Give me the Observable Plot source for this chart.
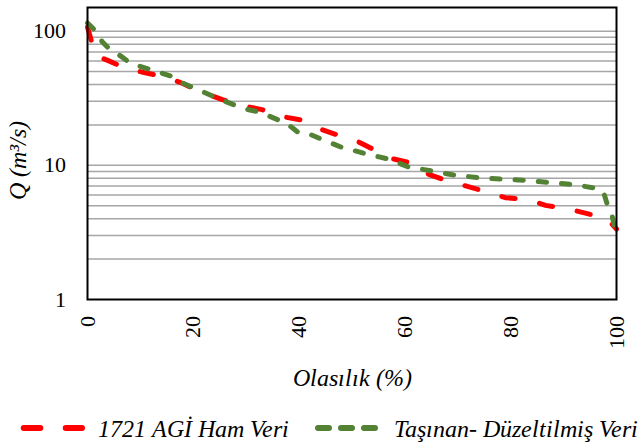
<!DOCTYPE html>
<html>
<head>
<meta charset="utf-8">
<script src="https://cdn.jsdelivr.net/npm/d3@7"></script>
<script src="https://cdn.jsdelivr.net/npm/@observablehq/plot@0.6"></script>
<style>
  @font-face { font-family: "RefSerif"; font-style: normal; font-weight: 400;
    src: local("Liberation Serif"), local("LiberationSerif"), local("LiberationSerif-Regular"), local("DejaVu Serif"), local("DejaVuSerif"), local("Times New Roman"), local("Tinos"); }
  @font-face { font-family: "RefSerif"; font-style: italic; font-weight: 400;
    src: local("Liberation Serif Italic"), local("LiberationSerif-Italic"), local("DejaVu Serif Italic"), local("DejaVuSerif-Italic"), local("Times New Roman Italic"), local("Tinos Italic"); }
  html, body { margin: 0; padding: 0; background: #fff; }
  body { width: 643px; height: 446px; position: relative; overflow: hidden; font-family: "RefSerif", "Liberation Serif", "DejaVu Serif", "Times New Roman", serif; }
  #chart { position: absolute; left: 0; top: 0; }
  .lg-swatch { position: absolute; }
  .lg-text { position: absolute; font-size: 24px; line-height: 24px; font-style: italic; color: #000; white-space: nowrap; }
</style>
</head>
<body>
<div id="chart"></div>
<div id="legend"></div>
<script>
// ---- data ----
const seriesNames = ["1721 AGİ Ham Veri", "Taşınan- Düzeltilmiş Veri"];
const seriesColors = ["#ff0000", "#548235"];

const probRed = [0, 1.5, 3.7, 7.2, 10.9, 14.7, 17.9, 21.4, 25.5, 28.9, 33.0, 36.5, 40.6, 43.7, 47.5, 51.0, 54.4, 57.6, 61.7, 64.5, 68.0, 71.8, 75.6, 79.0, 83.4, 86.6, 90.7, 94.5, 98.2, 100];
const qRed    = [107, 66, 60.8, 52.9, 48.9, 45.6, 40.9, 35.2, 30.9, 28.0, 26.0, 23.2, 21.7, 18.8, 16.7, 15.1, 12.9, 11.2, 10.3, 8.57, 7.64, 6.97, 6.32, 5.74, 5.55, 5.03, 4.75, 4.36, 4.0, 3.35];

const probGreen = [0, 1.95, 2.78, 4.35, 6.05, 8.13, 12.2, 16.3, 17.9, 21.4, 25.5, 29.5, 32.4, 36.2, 38.1, 39.9, 41.8, 44.0, 48.1, 52.6, 57.0, 60.7, 65.2, 69.6, 74.0, 78.7, 82.8, 87.5, 91.9, 96.7, 97.6, 98.5, 99.2, 99.7, 100];
const qGreen    = [115, 96.6, 83.2, 72.1, 66.2, 57.7, 51.2, 45.6, 41.1, 35.9, 30.5, 26.5, 25.0, 21.7, 19.9, 17.5, 17.2, 15.8, 13.6, 12.2, 11.1, 9.71, 9.07, 8.42, 8.09, 7.86, 7.73, 7.43, 7.18, 6.70, 6.21, 4.75, 4.16, 3.37, 2.85];

const xTicks = [0, 20, 40, 60, 80, 100];
const yTicks = [1, 10, 100];
const yGrid = [2, 3, 4, 5, 6, 7, 8, 9, 10, 20, 30, 40, 50, 60, 70, 80, 90, 100];
const xTitle = "Olasılık (%)";
const yTitle = "Q (m³/s)";

// ---- build tables ----
const redData = probRed.map((p, i) => ({p, q: qRed[i]}));
const greenData = probGreen.map((p, i) => ({p, q: qGreen[i]}));

const serif = "RefSerif, 'Liberation Serif', 'DejaVu Serif', 'Times New Roman', serif";

const chart = Plot.plot({
  width: 643,
  height: 405,
  marginTop: 7,
  marginLeft: 87,
  marginRight: 27,
  marginBottom: 106,
  style: { fontFamily: serif, fontSize: "22px", color: "#000", background: "#fff" },
  x: { domain: [0, 100] },
  y: { type: "log", domain: [1, 150] },
  marks: [
    Plot.ruleY(yGrid, { stroke: "#a6a6a6", strokeWidth: 1.5 }),
    Plot.axisY(yTicks, { tickSize: 0, tickPadding: 22, tickFormat: d => String(d), label: null, fontSize: 22 }),
    Plot.axisX(xTicks, { tickSize: 0, tickPadding: 16, tickRotate: -90, label: null, fontSize: 22 }),
    Plot.line(redData, { x: "p", y: "q", stroke: seriesColors[0], strokeWidth: 5, strokeDasharray: "13.5,25", strokeLinecap: "round", strokeLinejoin: "round" }),
    Plot.line(greenData, { x: "p", y: "q", stroke: seriesColors[1], strokeWidth: 5, strokeDasharray: "8.3,15", strokeLinecap: "round", strokeLinejoin: "round" }),
    Plot.frame({ stroke: "#000", strokeWidth: 2 }),
    Plot.text([xTitle], { frameAnchor: "bottom", dy: 79, textAnchor: "middle", lineAnchor: "middle", fontStyle: "italic", fontSize: 24 }),
    Plot.text([yTitle], { frameAnchor: "left", dx: -69, dy: 7, rotate: -90, textAnchor: "middle", lineAnchor: "middle", fontStyle: "italic", fontSize: 24 })
  ]
});
document.getElementById("chart").appendChild(chart);

// ---- legend ----
const legend = document.getElementById("legend");
const lgItems = [
  { name: seriesNames[0], color: seriesColors[0], x0: 23.7, x1: 82, dash: "16.6,25.4", textLeft: 98 },
  { name: seriesNames[1], color: seriesColors[1], x0: 318, x1: 377, dash: "11,12", textLeft: 394 }
];
const NS = "http://www.w3.org/2000/svg";
lgItems.forEach(it => {
  const svg = document.createElementNS(NS, "svg");
  svg.setAttribute("class", "lg-swatch");
  svg.setAttribute("width", 643);
  svg.setAttribute("height", 20);
  svg.style.left = "0px";
  svg.style.top = "418px";
  const ln = document.createElementNS(NS, "line");
  ln.setAttribute("x1", it.x0); ln.setAttribute("x2", it.x1);
  ln.setAttribute("y1", 10); ln.setAttribute("y2", 10);
  ln.setAttribute("stroke", it.color);
  ln.setAttribute("stroke-width", 6);
  ln.setAttribute("stroke-linecap", "round");
  ln.setAttribute("stroke-dasharray", it.dash);
  svg.appendChild(ln);
  legend.appendChild(svg);
  const sp = document.createElement("span");
  sp.className = "lg-text";
  sp.textContent = it.name;
  sp.style.left = it.textLeft + "px";
  sp.style.top = "416.6px";
  legend.appendChild(sp);
});
</script>
</body>
</html>
